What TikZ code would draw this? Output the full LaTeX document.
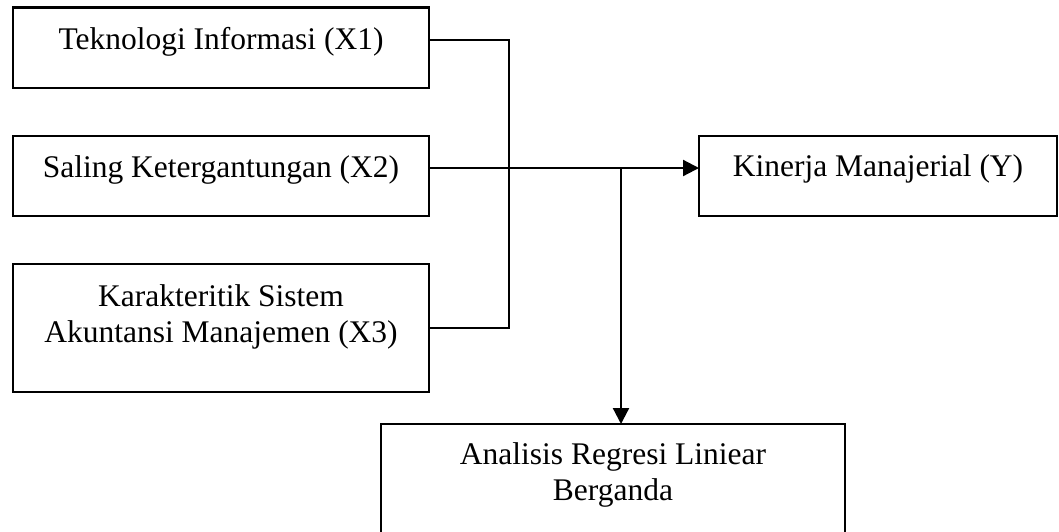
\documentclass[tikz,border=0pt]{standalone}
\usepackage{fontspec}
\setmainfont{Liberation Serif}
\usetikzlibrary{arrows.meta}
\begin{document}
\begin{tikzpicture}[x=1pt,y=-1pt,
  box/.style={draw=black,line width=2.2pt,minimum width=#1,inner sep=0pt,outer sep=0pt},
  txt/.style={anchor=base,inner sep=0pt,font=\fontsize{31.5}{36}\selectfont},
  conn/.style={line width=2.2pt},
  arr/.style={line width=2.2pt,-{Triangle[width=16pt,length=16pt]}}]
\clip (0,0) rectangle (1059,531);
\fill[white] (0,0) rectangle (1059,531);
% boxes
\node[box=416pt,minimum height=80.5pt] (x1) at (221,47.75) {};
\node[box=416pt,minimum height=80pt] (x2) at (221,176) {};
\node[box=416pt,minimum height=128pt] (x3) at (221,328) {};
\node[box=358pt,minimum height=80pt] (y) at (878,176) {};
\node[box=464pt,minimum height=150pt] (ar) at (613,499) {};
% texts
\node[txt] (t1) at (221,49) {Teknologi Informasi (X1)};
\node[txt] (t2) at (221,177) {Saling Ketergantungan (X2)};
\node[txt] (t3a) at (221,306) {Karakteritik Sistem};
\node[txt] (t3b) at (221,342) {Akuntansi Manajemen (X3)};
\node[txt] (ty) at (878,176) {Kinerja Manajerial (Y)};
\node[txt] (tra) at (613,464) {Analisis Regresi Liniear};
\node[txt] (trb) at (613,500) {Berganda};
% connectors
\coordinate (j1) at (509,40);
\coordinate (j3) at (509,328);
\coordinate (j2) at (621,168);
\draw[conn] (x1.east |- j1) -- (j1) -- (j3) -- (x3.east |- j3);
\draw[arr] (x2.east |- j2) -- (y.west |- j2);
\draw[arr] (j2) -- (j2 |- ar.north);
\end{tikzpicture}
\end{document}
